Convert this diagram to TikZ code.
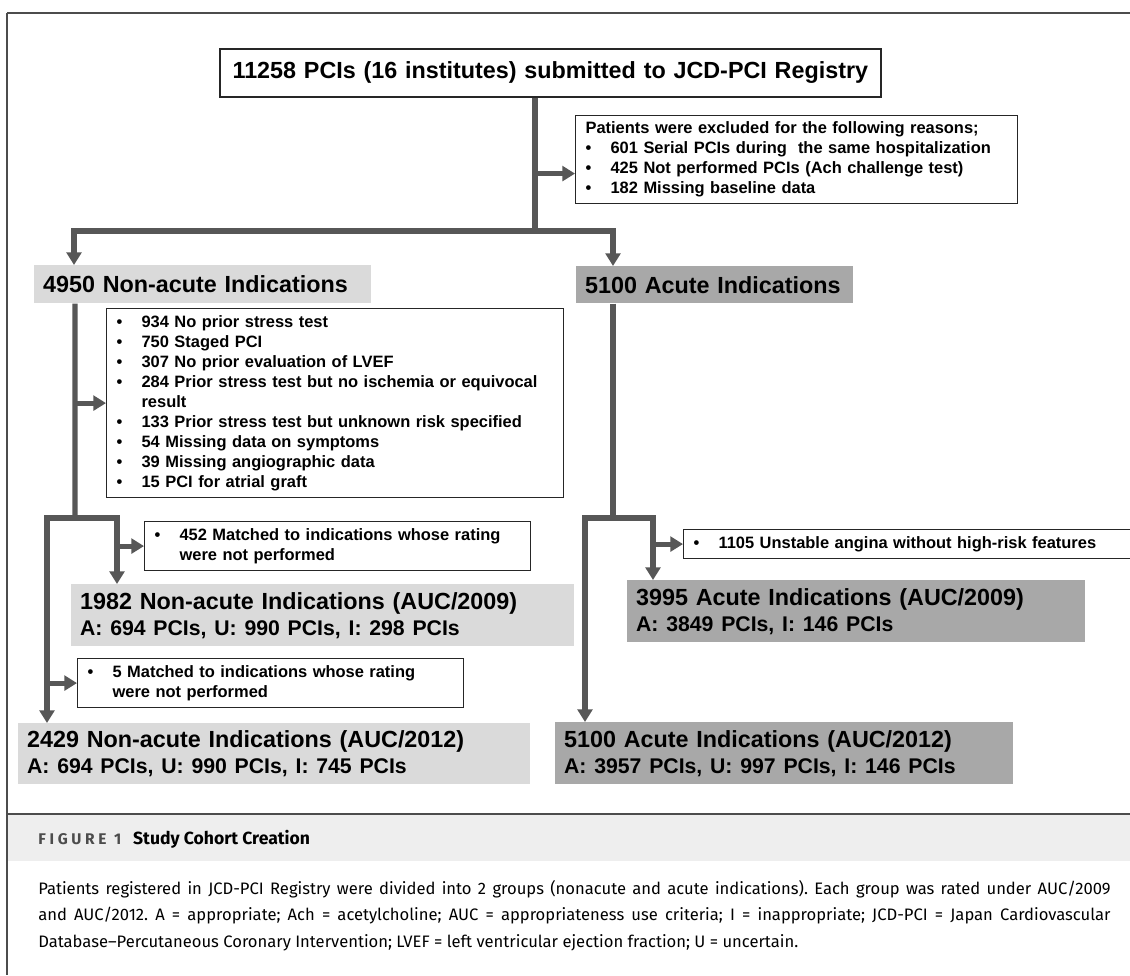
\documentclass[tikz,border=0pt]{standalone}
\usepackage{fontspec}
\setmainfont{Liberation Sans}
\newfontfamily\capfont{Fira Sans}
\usetikzlibrary{arrows.meta}

\definecolor{nagray}{HTML}{DADADA}
\definecolor{acgray}{HTML}{A8A8A8}
\definecolor{bandgray}{HTML}{EEEEEE}
\definecolor{pipegray}{HTML}{575757}

\newcommand{\bigtxt}{\fontsize{16.6pt}{18.4pt}\selectfont\bfseries}
\newcommand{\subtxt}{\fontsize{15.1pt}{18.4pt}\selectfont\bfseries}
\newcommand{\listtxt}{\fontsize{11.7pt}{14.2pt}\selectfont\bfseries}
\newcommand{\bul}{\makebox[0.625cm][l]{\textbullet}}
\newcommand{\cont}{\hspace*{0.625cm}}

\begin{document}
\begin{tikzpicture}[
    x=0.025cm, y=-0.025cm,
    >={Triangle[width=10.5pt,length=9pt]},
    box/.style={
        draw=black!85, line width=0.8pt, anchor=north west,
        inner xsep=0.25cm, inner ysep=0pt, align=left, font=\listtxt
    },
    grp/.style={
        fill=nagray, anchor=north west,
        inner xsep=0.22cm, inner ysep=0pt, align=left, font=\bigtxt
    },
    acgrp/.style={grp, fill=acgray},
    pipe/.style={draw=pipegray, line width=3.6pt},
    arr/.style={pipe, ->},
    frameline/.style={draw=black!70, line width=1pt},
]
\useasboundingbox (0,0) rectangle (1130,975);
\fill[white] (0,0) rectangle (1130,975);

% --- Frame and caption band ---
\fill[bandgray] (7,814) rectangle (1130,861);
\draw[frameline] (7,13) -- (1130,13);
\draw[frameline] (7,13) -- (7,975);
\draw[frameline] (7,814) -- (1130,814);

% --- Registry and exclusions ---
\node[box, align=center, font=\bigtxt, line width=1.1pt, text width=16.025cm, minimum height=1.2cm] (reg) at (219,48)
    {11258 PCIs (16 institutes) submitted to JCD-PCI Registry};
\node[box, text width=10.55cm, minimum height=2.2cm] (excl) at (575,115)
    {Patients were excluded for the following reasons;\\
     \bul 601 Serial PCIs during~ the same hospitalization\\
     \bul 425 Not performed PCIs (Ach challenge test)\\
     \bul 182 Missing baseline data};

% --- Two groups ---
\node[grp, text width=7.985cm, minimum height=0.95cm] (nonacute) at (34,265) {4950 Non-acute Indications};
\node[acgrp, text width=6.485cm, minimum height=0.925cm] (acute) at (576,266) {5100 Acute Indications};

% --- Non-acute branch ---
\node[box, text width=10.925cm, minimum height=4.725cm] (nalist) at (106,308)
    {\bul 934 No prior stress test\\
     \bul 750 Staged PCI\\
     \bul 307 No prior evaluation of LVEF\\
     \bul 284 Prior stress test but no ischemia or equivocal\\
     \cont result\\
     \bul 133 Prior stress test but unknown risk specified\\
     \bul 54 Missing data on symptoms\\
     \bul 39 Missing angiographic data\\
     \bul 15 PCI for atrial graft};
\node[box, text width=9.15cm, minimum height=1.225cm] (na09ex) at (144,521)
    {\bul 452 Matched to indications whose rating\\\cont were not performed};
\node[grp, text width=12.135cm, minimum height=1.55cm] (na09) at (71,584)
    {1982 Non-acute Indications (AUC/2009)\\\subtxt A: 694 PCIs, U: 990 PCIs, I: 298 PCIs};
\node[box, text width=9.15cm, minimum height=1.225cm] (na12ex) at (77,658)
    {\bul 5 Matched to indications whose rating\\\cont were not performed};
\node[grp, text width=12.36cm, minimum height=1.525cm] (na12) at (18,723)
    {2429 Non-acute Indications (AUC/2012)\\\subtxt A: 694 PCIs, U: 990 PCIs, I: 745 PCIs};

% --- Acute branch ---
\node[box, text width=10.925cm, minimum height=0.725cm] (ac09ex) at (683,529)
    {\bul 1105 Unstable angina without high-risk features};
\node[acgrp, text width=11.01cm, minimum height=1.55cm] (ac09) at (627,580)
    {3995 Acute Indications (AUC/2009)\\\subtxt A: 3849 PCIs, I: 146 PCIs};
\node[acgrp, text width=11.01cm, minimum height=1.55cm] (ac12) at (555,722)
    {5100 Acute Indications (AUC/2012)\\\subtxt A: 3957 PCIs, U: 997 PCIs, I: 146 PCIs};

% --- Connectors: registry split ---
\coordinate (jtop) at (535,231);
\coordinate (exin) at ([yshift=-0.35cm]excl.west);
\draw[pipe] (reg.south -| jtop) -- (jtop);
\draw[arr] (jtop) -| ([xshift=1cm]nonacute.north west);
\draw[arr] (jtop) -| ([xshift=0.925cm]acute.north west);
\draw[arr] (exin -| jtop) -- (exin);

% --- Connectors: non-acute ---
\coordinate (jna) at (75,518);
\coordinate (na09in) at (117,518);
\coordinate (na12in) at (47,518);
\draw[pipe] ([xshift=1.025cm]nonacute.south west) -- (jna);
\draw[arr] (jna) -- (na09in) -- (na09in |- na09.north);
\draw[arr] (jna) -- (na12in) -- (na12in |- na12.north);
\draw[arr] (nalist.west -| jna) -- (nalist.west);
\draw[arr] (na09ex.west -| na09in) -- (na09ex.west);
\draw[arr] (na12ex.west -| na12in) -- (na12ex.west);

% --- Connectors: acute ---
\coordinate (jac) at (613,518);
\coordinate (ac09in) at (653,518);
\coordinate (ac12in) at (585,518);
\draw[pipe] (acute.south -| jac) -- (jac);
\draw[arr] (jac) -- (ac09in) -- (ac09in |- ac09.north);
\draw[arr] (jac) -- (ac12in) -- (ac12in |- ac12.north);
\draw[arr] (ac09ex.west -| ac09in) -- (ac09ex.west);

% --- Caption ---
\node[anchor=base west, inner sep=0pt, font=\capfont\bfseries] (figlabel) at (38,844)
    {{\color{black!70}\fontsize{11pt}{13pt}\selectfont\addfontfeature{LetterSpace=24}FIGURE 1}\hspace{0.3cm}{\fontsize{12.5pt}{14pt}\selectfont Study Cohort Creation}};
\node[anchor=north west, inner sep=0pt, text width=26.8cm, align=justify, font=\capfont\fontsize{11.8pt}{18.8pt}\selectfont\frenchspacing] (caption) at (38,880)
    {Patients registered in JCD-PCI Registry were divided into 2 groups (nonacute and acute indications). Each group was rated under AUC/2009\linebreak
     and AUC/2012. A = appropriate; Ach = acetylcholine; AUC = appropriateness use criteria; I = inappropriate; JCD-PCI = Japan Cardiovascular\linebreak
     Database–Percutaneous Coronary Intervention; LVEF = left ventricular ejection fraction; U = uncertain.};

\end{tikzpicture}
\end{document}
